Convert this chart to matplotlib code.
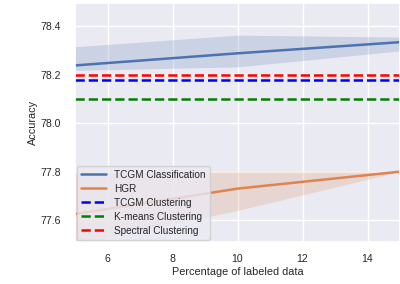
import matplotlib
matplotlib.use("Agg")
import matplotlib.pyplot as plt
import seaborn as sns

# data
pct = [5, 10, 15]

tcgm_cls = [78.238, 78.288, 78.334]
tcgm_cls_lo = [78.218, 78.232, 78.298]
tcgm_cls_hi = [78.315, 78.363, 78.355]

hgr = [77.625, 77.73, 77.80]
hgr_lo = [77.50, 77.64, 77.80]
hgr_hi = [77.80, 77.80, 77.80]

tcgm_clu = 78.18
kmeans_clu = 78.10
spectral_clu = 78.20

sns.set_theme(style="darkgrid")
plt.rcParams['font.family'] = ['Liberation Sans', 'DejaVu Sans']

fig = plt.figure(figsize=(4.0, 2.84), dpi=100)
ax = fig.add_axes([0.1875, 0.148, 0.8125, 0.841])

c1, c2 = sns.color_palette("deep")[:2]
ax.plot(pct, tcgm_cls, color=c1, lw=1.8, label="TCGM Classification")
ax.fill_between(pct, tcgm_cls_lo, tcgm_cls_hi, color=c1, alpha=0.2, lw=0)
ax.plot(pct, hgr, color=c2, lw=1.8, label="HGR")
ax.fill_between(pct, hgr_lo, hgr_hi, color=c2, alpha=0.2, lw=0)

ax.axhline(tcgm_clu, color="blue", ls="--", lw=1.8, label="TCGM Clustering")
ax.axhline(kmeans_clu, color="green", ls="--", lw=1.8, label="K-means Clustering")
ax.axhline(spectral_clu, color="red", ls="--", lw=1.8, label="Spectral Clustering")

ax.set_xlim(5, 15)
ax.set_ylim(77.51, 78.495)
ax.set_xticks([6, 8, 10, 12, 14])
ax.set_yticks([77.6, 77.8, 78.0, 78.2, 78.4])
ax.tick_params(axis="x", labelsize=7.6, pad=3)
ax.tick_params(axis="y", labelsize=7.6, pad=4)
ax.set_xlabel("Percentage of labeled data", fontsize=7.8, labelpad=2)
ax.set_ylabel("Accuracy", fontsize=7.8, labelpad=2)

ax.legend(loc="lower left", fontsize=7.2, handlelength=2.5, borderaxespad=0.2,
          labelspacing=0.4)

fig.savefig("out.png", dpi=100)
